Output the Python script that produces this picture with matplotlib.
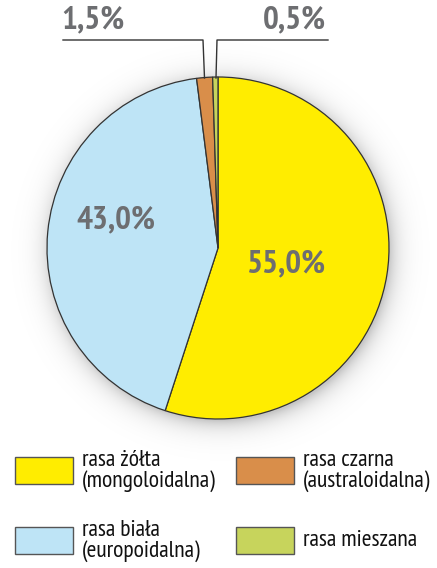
import numpy as np
import matplotlib.pyplot as plt
from matplotlib.patches import Rectangle

# dane
labels = ['rasa żółta\n(mongoloidalna)', 'rasa biała\n(europoidalna)',
          'rasa czarna\n(australoidalna)', 'rasa mieszana']
values = [55.0, 43.0, 1.5, 0.5]
colors = ['#FFED00', '#BEE4F6', '#D98E4A', '#C7D45C']
pct_text = ['55,0%', '43,0%', '1,5%', '0,5%']

W, H = 437, 568
fig = plt.figure(figsize=(W / 100, H / 100), dpi=100)
ax = fig.add_axes([0, 0, 1, 1])

font = ['PT Sans Narrow', 'DejaVu Sans']
grey = '#6D6E71'

cx, cy, r = 218, H - 248, 171

# cień pod wykresem
yy, xx = np.mgrid[0:H, 0:W]
d = np.hypot(xx - (cx + 2), (H - yy) - (cy - 3))
shadow = np.clip(np.exp(-(d - r + 2) / 10.0), 0, 1) * 0.22
shadow[d < r - 8] = 0
img = np.zeros((H, W, 4))
img[..., 3] = shadow
ax.imshow(img, extent=(0, W, 0, H), zorder=0)

wedges, _ = ax.pie(values, colors=colors, startangle=90, counterclock=False,
                   center=(cx, cy), radius=r, frame=True,
                   wedgeprops=dict(edgecolor='#333333', linewidth=0.9))
ax.set_xlim(0, W)
ax.set_ylim(0, H)
ax.set_aspect('equal')
ax.axis('off')

# etykiety procentowe
kw = dict(ha='center', va='center', fontsize=24, fontweight='bold',
          color=grey, family=font)
ax.text(286, H - 264, pct_text[0], **kw)
ax.text(116, H - 220, pct_text[1], **kw)
ax.text(93, H - 20, pct_text[2], **kw)
ax.text(294, H - 20, pct_text[3], **kw)

# linie odniesienia
ax.plot([63, 203, 204.5], [H - 40, H - 40, H - 78], color='#333333', lw=1)
ax.plot([328, 217, 216], [H - 40, H - 40, H - 78], color='#333333', lw=1)

# legenda
pos = [(15, 457), (15, 527), (236, 457), (236, 527)]
for (x, y), lab, col in zip(pos, labels, colors):
    ax.add_patch(Rectangle((x, H - y - 27), 58, 27, facecolor=col,
                           edgecolor='#555555', lw=1))
    ax.text(x + 67, H - y - 14, lab, ha='left', va='center', fontsize=17,
            family=font, color='#111111', linespacing=0.95)

fig.savefig('out.png', dpi=100)
